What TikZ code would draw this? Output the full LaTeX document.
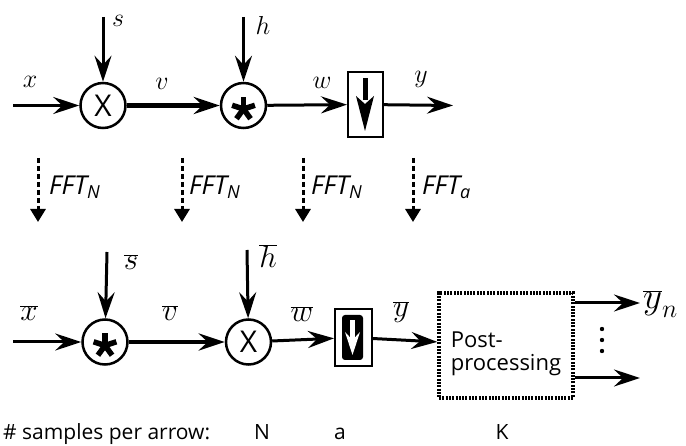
\RequirePackage{fix-cm}
\documentclass[tikz,border=0pt]{standalone}
\usepackage{fontspec}
\newfontfamily\osans{Open Sans}
\usetikzlibrary{arrows.meta}
\begin{document}
\begin{tikzpicture}[x=1pt,y=-1pt,
  sig/.style={line width=3pt, -{Stealth[length=26pt,width=17pt,inset=9pt]}},
  sigthick/.style={sig, line width=4.5pt},
  opcirc/.style={circle, draw, line width=2.5pt, minimum size=45pt, inner sep=0pt},
  mulsign/.style={font=\osans\fontsize{30}{30}\selectfont},
  astarm/.style={line width=5.5pt},
  lbl/.style={font=\fontsize{26}{26}\selectfont, inner sep=0pt},
  blbl/.style={font=\fontsize{31}{31}\selectfont, inner sep=0pt},
  fft/.style={line width=3pt, dash pattern=on 5pt off 3pt, -{Triangle[length=13pt,width=15pt]}},
  fftlbl/.style={font=\osans\itshape\fontsize{26}{26}\selectfont, anchor=west, inner sep=0pt},
  txt/.style={font=\osans\fontsize{21}{21}\selectfont, inner sep=0pt, anchor=base west},
  dnbox/.style={draw, line width=2pt, inner sep=0pt},
]
\useasboundingbox (0,0) rectangle (686,446);

% ---------- top row ----------
\coordinate (xin) at (13,105.5);
\coordinate (sin) at (103,17);
\coordinate (hin) at (243.5,17);
\coordinate (yout) at (453,105.5);
\node[opcirc, mulsign] (m1) at (103,105.5) {X};
\node[opcirc] (c1) at (243.5,105.5) {};
\foreach \a in {270,342,54,126,198} \draw[astarm] (243.5,109) -- ++(\a:12);
\node[dnbox, minimum width=35pt, minimum height=65pt] (d1) at (365.5,104.5) {};
\fill (362.5,78) rectangle (367.5,100);
\fill (356,96) -- (365,104) -- (374,96) -- (365,131) -- cycle;

\draw[sig] (xin) -- (m1);
\draw[sig] (sin) -- (m1);
\draw[sigthick] (m1) -- (c1);
\draw[sig] (hin) -- (c1);
\draw[sig] (c1) -- (d1);
\draw[sig] (d1) -- (yout);

\node[lbl] (lx) at (30,82) {$x$};
\node[lbl] (ls) at (118,21) {$s$};
\node[lbl] (lv) at (162,84) {$v$};
\node[lbl] (lh) at (263,25) {$h$};
\node[lbl] (lw) at (322,83) {$w$};
\node[lbl] (ly) at (421,79) {$y$};

% ---------- FFT arrows ----------
\coordinate (f1a) at (38,158);  \coordinate (f1b) at (38,222);
\coordinate (f2a) at (182,158); \coordinate (f2b) at (182,222);
\coordinate (f3a) at (303,158); \coordinate (f3b) at (303,222);
\coordinate (f4a) at (413,158); \coordinate (f4b) at (413,222);
\draw[fft] (f1a) -- (f1b);
\draw[fft] (f2a) -- (f2b);
\draw[fft] (f3a) -- (f3b);
\draw[fft] (f4a) -- (f4b);
\node[fftlbl] (t1) at (49,187) {FFT$_{\mbox{\osans\itshape\fontsize{18}{18}\selectfont N}}$};
\node[fftlbl] (t2) at (189,187) {FFT$_{\mbox{\osans\itshape\fontsize{18}{18}\selectfont N}}$};
\node[fftlbl] (t3) at (311,187) {FFT$_{\mbox{\osans\itshape\fontsize{18}{18}\selectfont N}}$};
\node[fftlbl] (t4) at (422,187) {FFT$_{\mbox{\osans\itshape\fontsize{18}{18}\selectfont a}}$};

% ---------- bottom row ----------
\coordinate (xbin) at (13,342);
\coordinate (sbin) at (107,252);
\coordinate (hbin) at (247,250);
\node[opcirc] (m2) at (105,342) {};
\foreach \a in {270,342,54,126,198} \draw[astarm] (105,345.5) -- ++(\a:12);
\node[opcirc, mulsign] (c2) at (248.5,342) {X};
\node[dnbox, minimum width=37pt, minimum height=57pt] (d2) at (353.5,337.5) {};
\fill[rounded corners=3pt] (342,315) rectangle (363,360);
\fill[white] (350,320) rectangle (355,341);
\fill[white] (345,332) -- (352.5,340) -- (360,332) -- (352.5,355) -- cycle;
\node[draw, line width=3.5pt, dash pattern=on 2pt off 1.3pt, minimum width=134pt, minimum height=105pt,
      align=left, font=\osans\fontsize{22}{23}\selectfont] (pp) at (506,345.5) {\rule{0pt}{33pt}Post-\\processing};
\coordinate (o1) at (640,303);
\coordinate (o2) at (640,378);

\draw[sig] (xbin) -- (m2);
\draw[sig] (sbin) -- (m2);
\draw[sigthick] (m2) -- (c2);
\draw[sig] (hbin) -- (c2);
\draw[sig] (c2) -- (d2);
\draw[sig] (d2) -- (pp);
\draw[sig] (pp.east |- o1) -- (o1);
\draw[sig] (pp.east |- o2) -- (o2);
\foreach \yy in {329,340,351} \fill (602,\yy) circle (2.2pt);

\node[blbl] (lxb) at (29,313) {$\overline{x}$};
\node[blbl] (lsb) at (131,262) {$\overline{s}$};
\node[blbl] (lvb) at (170,313) {$\overline{v}$};
\node[blbl] (lhb) at (268,256) {$\overline{h}$};
\node[blbl] (lwb) at (302,314) {$\overline{w}$};
\node[blbl] (lyb) at (401,312) {$\overline{y}$};
\node[blbl, anchor=west, font=\fontsize{37}{37}\selectfont] (lyn) at (643,304) {$\overline{y}_n$};

% ---------- bottom text ----------
\node[txt] (cap) at (3,440) {\# samples per arrow:};
\node[txt, anchor=base] (nN) at (262,440) {N};
\node[txt, anchor=base] (na) at (340,440) {a};
\node[txt, anchor=base] (nK) at (502,440) {K};
\end{tikzpicture}
\end{document}
